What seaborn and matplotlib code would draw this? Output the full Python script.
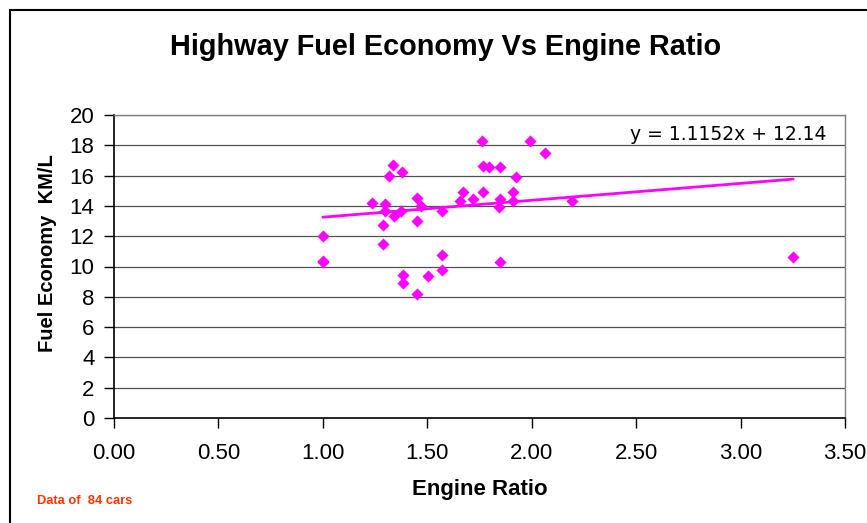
import numpy as np
import pandas as pd
import matplotlib
matplotlib.use("Agg")
import matplotlib.pyplot as plt
import seaborn as sns
from matplotlib.patches import Rectangle

# values
engine_ratio = [1.000, 1.000, 1.003, 1.235, 1.296, 1.296, 1.288, 1.288, 1.316, 1.337,
                1.377, 1.339, 1.374, 1.383, 1.383, 1.449, 1.470, 1.449, 1.450, 1.502,
                1.571, 1.571, 1.571, 1.657, 1.670, 1.718, 1.762, 1.768, 1.797, 1.768,
                1.848, 1.848, 1.845, 1.848, 1.924, 1.911, 1.911, 1.994, 2.064, 2.195,
                3.252]
fuel_economy = [12.04, 10.35, 10.30, 14.16, 14.12, 13.68, 12.76, 11.47, 15.99, 16.67,
                16.23, 13.36, 13.68, 9.47, 8.90, 14.51, 14.00, 13.00, 8.20, 9.36,
                13.68, 10.74, 9.80, 14.34, 14.93, 14.45, 18.27, 16.64, 16.55, 14.93,
                16.55, 14.45, 13.95, 10.30, 15.92, 14.93, 14.30, 18.29, 17.50, 14.30,
                10.66]
slope = 1.1152
intercept = 12.14
x_ticks = [0.0, 0.5, 1.0, 1.5, 2.0, 2.5, 3.0, 3.5]
y_ticks = list(range(0, 21, 2))

ws = pd.DataFrame({"ratio": engine_ratio, "economy": fuel_economy})
xs = np.array([min(engine_ratio), max(engine_ratio)])
trend = pd.DataFrame({"ratio": xs, "economy": slope * xs + intercept})

sns.set_style("white")
plt.rcParams["font.family"] = ["Liberation Sans", "DejaVu Sans"]
plt.rcParams["text.color"] = "black"
plt.rcParams["axes.labelcolor"] = "black"
plt.rcParams["xtick.color"] = "black"
plt.rcParams["ytick.color"] = "black"

fig = plt.figure(figsize=(8.67, 5.23), dpi=100)
ax = fig.add_axes([114 / 867, 1 - 418 / 523, (845 - 114) / 867, (418 - 115) / 523])

ax.set_axisbelow(True)
for yv in y_ticks[1:]:
    ax.axhline(yv, color="#505050", lw=0.9, zorder=0)

sns.lineplot(data=trend, x="ratio", y="economy", color="#FF00FF", lw=2, ax=ax, zorder=2)
sns.scatterplot(data=ws, x="ratio", y="economy", marker="D", s=38, color="#FF00FF",
                edgecolor="#FF00FF", linewidth=0, ax=ax, zorder=3)

ax.set_xlim(0, 3.5)
ax.set_ylim(0, 20)
ax.set_xticks(x_ticks)
ax.set_xticklabels([f"{v:.2f}" for v in x_ticks])
ax.set_yticks(y_ticks)
ax.tick_params(axis="both", direction="out", length=7, width=1, color="black",
               labelsize=16, pad=7, left=True, bottom=True)
ax.tick_params(axis="x", pad=11)

for side in ["left", "bottom"]:
    ax.spines[side].set_color("black")
    ax.spines[side].set_linewidth(1.2)
for side in ["top", "right"]:
    ax.spines[side].set_color("#808080")
    ax.spines[side].set_linewidth(1)

ax.set_xlabel("Engine Ratio", fontsize=16, fontweight="bold", labelpad=11)
ax.set_ylabel("Fuel Economy  KM/L", fontsize=14.5, fontweight="bold")
ax.yaxis.set_label_coords(-0.078, 0.545)

ax.text(0.975, 0.935, f"y = {slope}x + {intercept}", transform=ax.transAxes,
        ha="right", va="center", fontsize=13.5, family="DejaVu Sans")

fig.text(446 / 867, 1 - 47 / 523, "Highway Fuel Economy Vs Engine Ratio",
         ha="center", va="center", fontsize=20.8, fontweight="bold")
fig.text(37 / 867, 1 - 501 / 523, "Data of  84 cars", ha="left", va="center",
         fontsize=9.3, fontweight="bold", color="#FF3300")

fig.patches.append(Rectangle((10 / 867, -0.1), 1.2, 1.1 - 10 / 523, transform=fig.transFigure,
                             fill=False, edgecolor="black", lw=1.5))

fig.savefig("out.png", dpi=100)
